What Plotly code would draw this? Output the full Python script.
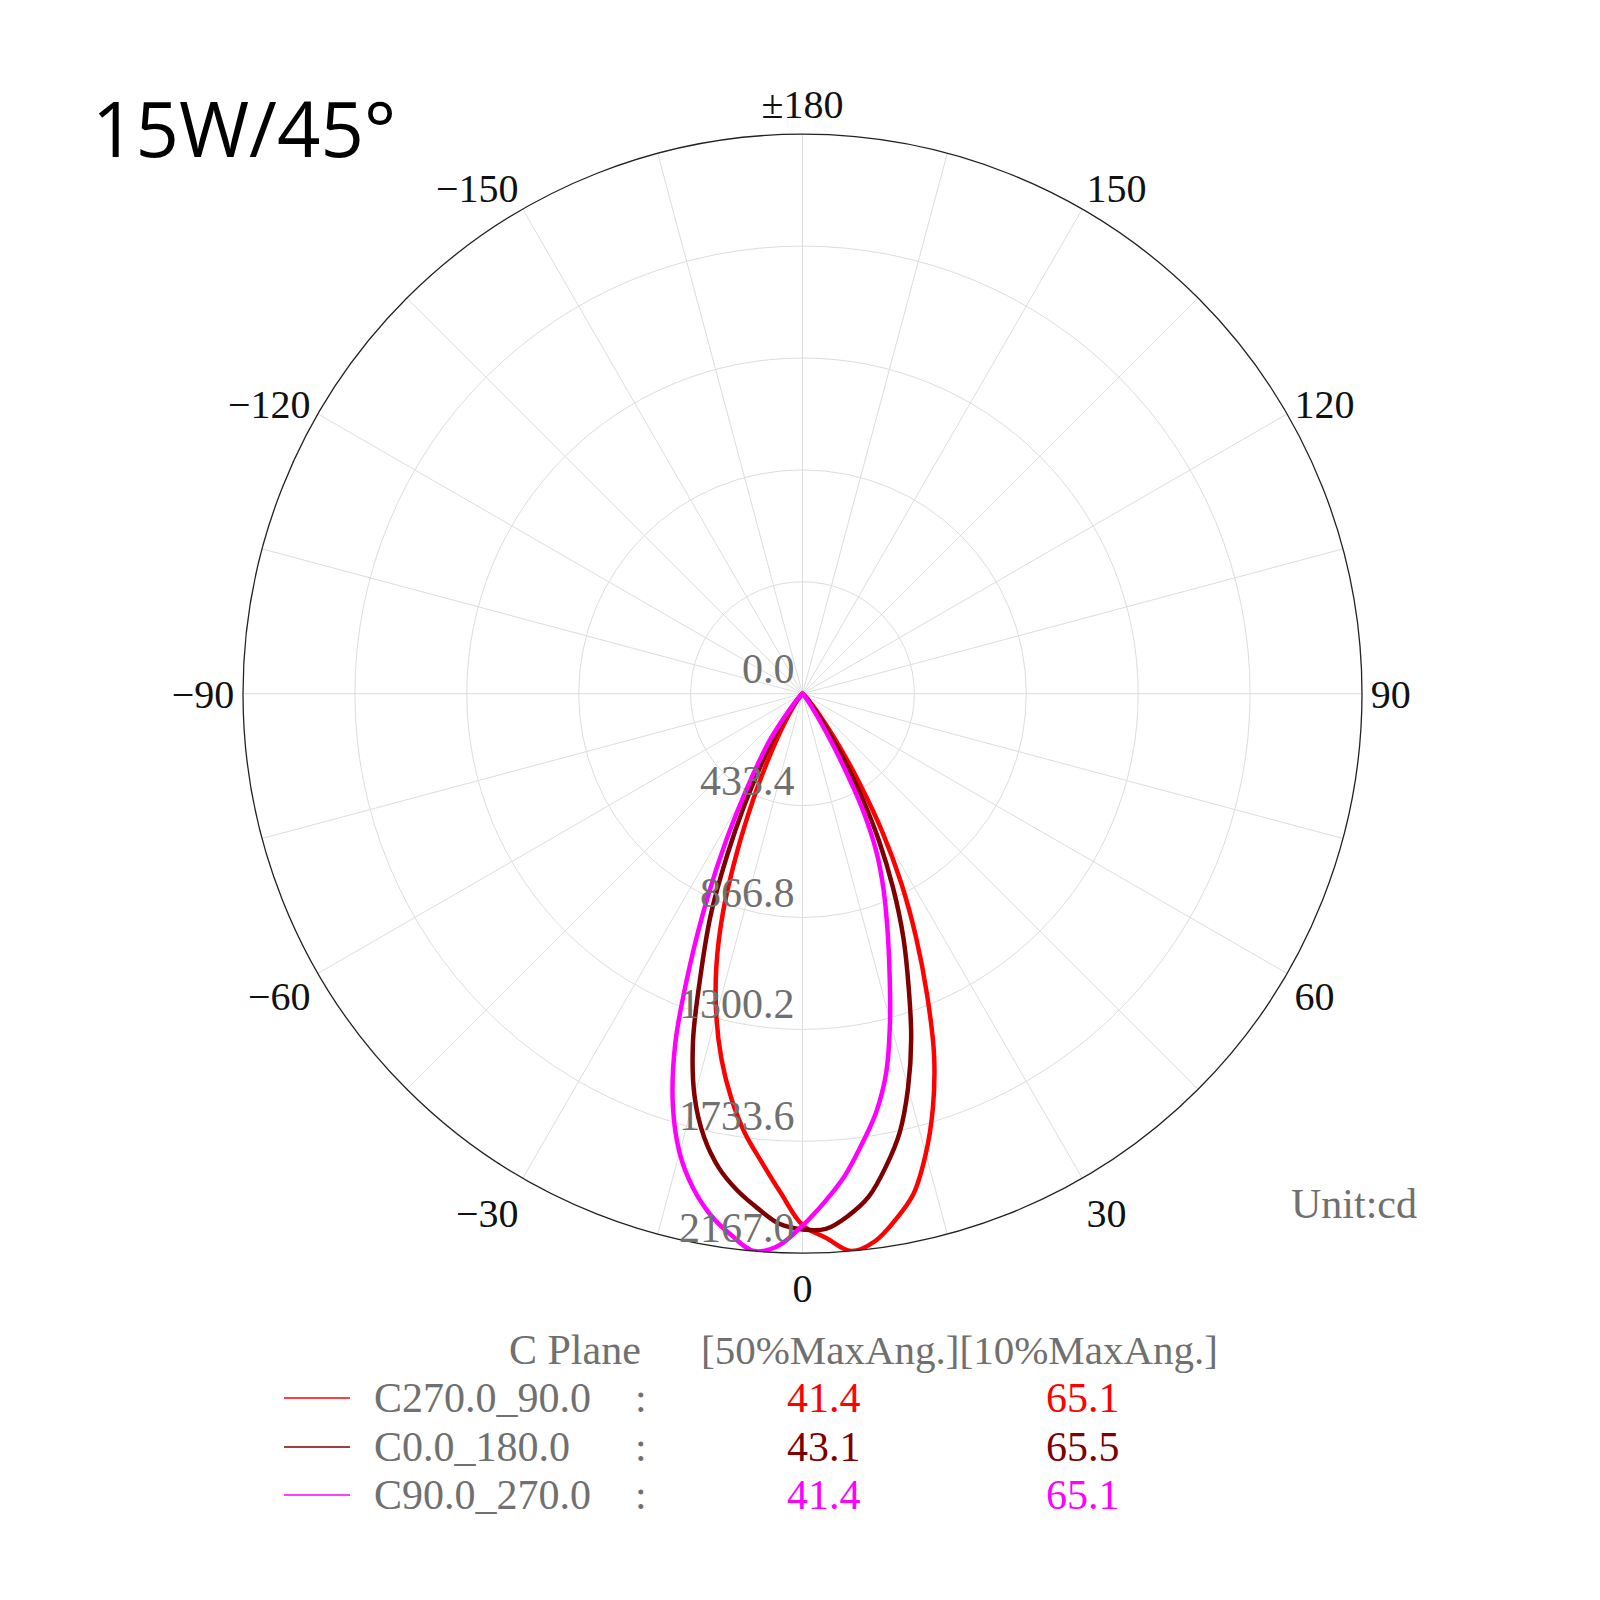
import plotly.graph_objects as go

# angles (deg) measured from nadir, shared by all three C planes
THETA = [-90, -70, -60, -50, -45, -42.5, -40, -37.5, -35, -32.5, -30, -27.5, -25, -22.5,
         -20, -17.5, -15, -12.5, -10, -7.5, -5, -2.5, 0, 2.5, 5, 7.5, 10, 12.5, 15, 17.5,
         20, 22.5, 25, 27.5, 30, 32.5, 35, 37.5, 40, 42.5, 45, 50, 60, 70, 90]

# intensities in cd
C270_90 = [0, 0, 0, 3, 8, 12, 20, 35, 60, 105, 180, 290, 450, 660,
           900, 1110, 1290, 1450, 1590, 1715, 1820, 1935, 2058, 2110, 2167, 2140, 2070, 1985, 1845, 1680,
           1490, 1260, 1040, 830, 620, 410, 250, 140, 75, 40, 20, 5, 0, 0, 0]
C0_180 = [0, 0, 0, 4, 12, 22, 40, 75, 140, 230, 330, 490, 690, 930,
          1150, 1410, 1615, 1760, 1865, 1940, 2000, 2055, 2075, 2075, 2030, 1965, 1860, 1740, 1580, 1400,
          1200, 1020, 830, 640, 450, 280, 150, 80, 40, 22, 12, 4, 0, 0, 0]
C90_270 = [0, 0, 0, 5, 15, 30, 60, 120, 225, 320, 450, 640, 870, 1140,
           1440, 1670, 1840, 1960, 2050, 2115, 2167, 2140, 2060, 1970, 1875, 1760, 1645, 1500, 1310, 1120,
           960, 820, 680, 500, 280, 130, 60, 30, 18, 10, 6, 2, 0, 0, 0]

PLANES = ["C270.0_90.0", "C0.0_180.0", "C90.0_270.0"]
COLORS = ["#ff0000", "#7f0000", "#ff00ff"]
HALF_MAX = ["41.4", "43.1", "41.4"]
TENTH_MAX = ["65.1", "65.5", "65.1"]

RING_VALUES = [0.0, 433.4, 866.8, 1300.2, 1733.6, 2167.0]
ANG_TICKS = list(range(0, 360, 15))
ANG_LABELS = {0: "0", 30: "30", 60: "60", 90: "90", 120: "120", 150: "150", 180: "±180",
              210: "−150", 240: "−120", 270: "−90", 300: "−60", 330: "−30"}

W = H = 1600
CX, CY, R = 794.5, 685.7, 559.5
SERIF = "Liberation Serif"
GRAY = "#707070"


def px(x):
    return x / W


def py(y):
    return 1 - y / H


fig = go.Figure()
for name, rv, col in zip(PLANES, [C270_90, C0_180, C90_270], COLORS):
    fig.add_trace(go.Scatterpolar(
        theta=THETA, r=rv, mode="lines", name=name,
        line=dict(color=col, width=4.5, shape="spline", smoothing=1.0),
        showlegend=False,
    ))

fig.update_layout(
    width=W, height=H,
    margin=dict(l=0, r=0, t=0, b=0),
    paper_bgcolor="white",
    polar=dict(
        domain=dict(x=[px(CX - R), px(CX + R)], y=[py(CY + R), py(CY - R)]),
        bgcolor="white",
        angularaxis=dict(
            rotation=-90, direction="counterclockwise",
            tickmode="array", tickvals=ANG_TICKS,
            ticktext=[ANG_LABELS.get(t, "") for t in ANG_TICKS],
            ticks="", showline=True, linecolor="#222222", linewidth=1.3,
            gridcolor="#dddddd", gridwidth=1,
            tickfont=dict(family=SERIF, size=40, color="#111111"),
        ),
        radialaxis=dict(
            range=[0, RING_VALUES[-1]], tickmode="array", tickvals=RING_VALUES,
            showticklabels=False, ticks="", showline=False,
            gridcolor="#dddddd", gridwidth=1,
        ),
    ),
)

ann = []
# radial value labels, sitting just above each ring on the 0 deg spoke
for v in RING_VALUES:
    ring_y = CY + v / RING_VALUES[-1] * R
    ann.append(dict(x=px(CX - 6), y=py(ring_y - 25), text=f"{v:.1f}", showarrow=False,
                    xanchor="right", yanchor="middle",
                    font=dict(family=SERIF, size=42, color=GRAY)))

ann.append(dict(x=px(82), y=py(120), text="15W/45°", showarrow=False,
                xanchor="left", yanchor="middle",
                font=dict(family="Open Sans", size=76, color="black")))
ann.append(dict(x=px(1281), y=py(1196), text="Unit:cd", showarrow=False,
                xanchor="left", yanchor="middle",
                font=dict(family=SERIF, size=42, color=GRAY)))

# legend table
ann.append(dict(x=px(567), y=py(1342), text="C Plane", showarrow=False,
                xanchor="center", yanchor="middle",
                font=dict(family=SERIF, size=42, color=GRAY)))
ann.append(dict(x=px(691), y=py(1342), text="[50%MaxAng.][10%MaxAng.]", showarrow=False,
                xanchor="left", yanchor="middle",
                font=dict(family=SERIF, size=41, color=GRAY)))
row_y = [1390, 1439, 1487]
shapes = []
for i, name in enumerate(PLANES):
    yy = py(row_y[i])
    shapes.append(dict(type="line", xref="paper", yref="paper",
                       x0=px(276), x1=px(342), y0=yy, y1=yy,
                       line=dict(color=COLORS[i], width=1.5)))
    ann.append(dict(x=px(364), y=yy, text=name, showarrow=False,
                    xanchor="left", yanchor="middle",
                    font=dict(family=SERIF, size=42, color=GRAY)))
    ann.append(dict(x=px(633), y=yy, text=":", showarrow=False,
                    xanchor="center", yanchor="middle",
                    font=dict(family=SERIF, size=42, color=GRAY)))
    ann.append(dict(x=px(816), y=yy, text=HALF_MAX[i], showarrow=False,
                    xanchor="center", yanchor="middle",
                    font=dict(family=SERIF, size=42, color=COLORS[i])))
    ann.append(dict(x=px(1075), y=yy, text=TENTH_MAX[i], showarrow=False,
                    xanchor="center", yanchor="middle",
                    font=dict(family=SERIF, size=42, color=COLORS[i])))

fig.update_layout(annotations=ann, shapes=shapes)
fig.write_html("out.html")
